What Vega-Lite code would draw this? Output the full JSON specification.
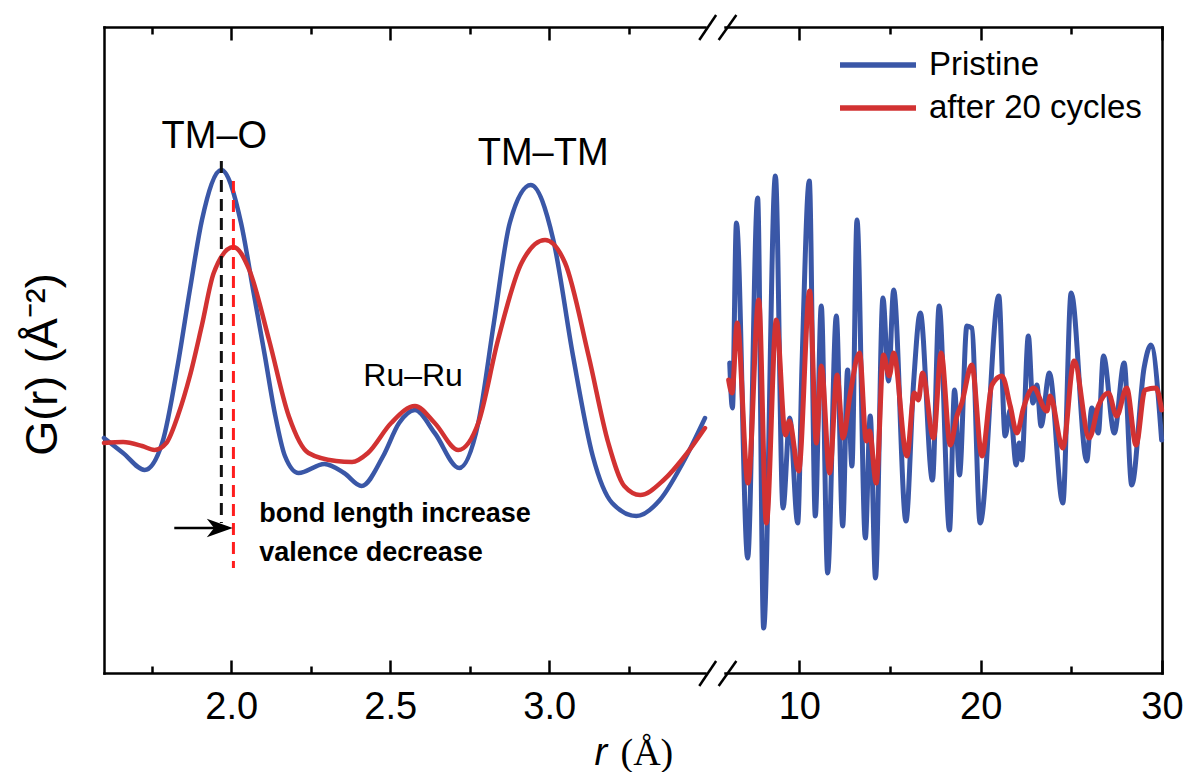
{
  "$schema": "https://vega.github.io/schema/vega-lite/v6.json",
  "background": "white",
  "padding": {"left": 20, "top": 13, "right": 4, "bottom": 0},
  "bounds": "flush",
  "spacing": 20,
  "config": {
    "view": {"stroke": null},
    "font": "Liberation Sans",
    "axis": {
      "grid": false,
      "domainColor": "#000",
      "domainWidth": 2.5,
      "domainCap": "square",
      "tickColor": "#000",
      "tickWidth": 2.5,
      "labelFont": "Liberation Sans",
      "labelFontSize": 38,
      "labelColor": "#000",
      "titleColor": "#000",
      "titleFont": "Liberation Sans",
      "titleFontWeight": "normal",
      "labelFlush": false,
      "labelOverlap": false
    }
  },
  "resolve": {"legend": {"color": "independent"}},
  "datasets": {
    "gl": [
      {"r": 1.600, "G": 0.2, "s": "Pristine"},
      {"r": 1.660, "G": -1.3, "s": "Pristine"},
      {"r": 1.728, "G": -3.0, "s": "Pristine"},
      {"r": 1.783, "G": -0.3, "s": "Pristine"},
      {"r": 1.833, "G": 7.7, "s": "Pristine"},
      {"r": 1.870, "G": 15.0, "s": "Pristine"},
      {"r": 1.908, "G": 22.0, "s": "Pristine"},
      {"r": 1.969, "G": 27.0, "s": "Pristine"},
      {"r": 2.031, "G": 21.7, "s": "Pristine"},
      {"r": 2.069, "G": 15.0, "s": "Pristine"},
      {"r": 2.106, "G": 8.4, "s": "Pristine"},
      {"r": 2.137, "G": 2.7, "s": "Pristine"},
      {"r": 2.169, "G": -1.6, "s": "Pristine"},
      {"r": 2.212, "G": -3.3, "s": "Pristine"},
      {"r": 2.293, "G": -2.4, "s": "Pristine"},
      {"r": 2.355, "G": -3.3, "s": "Pristine"},
      {"r": 2.410, "G": -4.6, "s": "Pristine"},
      {"r": 2.478, "G": -1.6, "s": "Pristine"},
      {"r": 2.528, "G": 1.7, "s": "Pristine"},
      {"r": 2.578, "G": 3.0, "s": "Pristine"},
      {"r": 2.640, "G": 0.7, "s": "Pristine"},
      {"r": 2.717, "G": -2.8, "s": "Pristine"},
      {"r": 2.777, "G": 1.7, "s": "Pristine"},
      {"r": 2.826, "G": 11.7, "s": "Pristine"},
      {"r": 2.876, "G": 21.7, "s": "Pristine"},
      {"r": 2.942, "G": 25.5, "s": "Pristine"},
      {"r": 3.013, "G": 20.0, "s": "Pristine"},
      {"r": 3.075, "G": 8.4, "s": "Pristine"},
      {"r": 3.137, "G": -1.6, "s": "Pristine"},
      {"r": 3.198, "G": -6.3, "s": "Pristine"},
      {"r": 3.274, "G": -7.6, "s": "Pristine"},
      {"r": 3.348, "G": -6.0, "s": "Pristine"},
      {"r": 3.420, "G": -2.3, "s": "Pristine"},
      {"r": 3.490, "G": 2.2, "s": "Pristine"},
      {"r": 1.600, "G": -0.3, "s": "after 20 cycles"},
      {"r": 1.660, "G": -0.2, "s": "after 20 cycles"},
      {"r": 1.720, "G": -0.6, "s": "after 20 cycles"},
      {"r": 1.759, "G": -1.0, "s": "after 20 cycles"},
      {"r": 1.796, "G": -0.3, "s": "after 20 cycles"},
      {"r": 1.833, "G": 2.5, "s": "after 20 cycles"},
      {"r": 1.870, "G": 6.4, "s": "after 20 cycles"},
      {"r": 1.908, "G": 11.5, "s": "after 20 cycles"},
      {"r": 1.945, "G": 16.7, "s": "after 20 cycles"},
      {"r": 2.007, "G": 19.3, "s": "after 20 cycles"},
      {"r": 2.057, "G": 17.0, "s": "after 20 cycles"},
      {"r": 2.119, "G": 10.0, "s": "after 20 cycles"},
      {"r": 2.181, "G": 2.4, "s": "after 20 cycles"},
      {"r": 2.243, "G": -1.3, "s": "after 20 cycles"},
      {"r": 2.330, "G": -2.1, "s": "after 20 cycles"},
      {"r": 2.380, "G": -2.2, "s": "after 20 cycles"},
      {"r": 2.430, "G": -1.3, "s": "after 20 cycles"},
      {"r": 2.503, "G": 1.7, "s": "after 20 cycles"},
      {"r": 2.578, "G": 3.4, "s": "after 20 cycles"},
      {"r": 2.640, "G": 1.7, "s": "after 20 cycles"},
      {"r": 2.714, "G": -1.0, "s": "after 20 cycles"},
      {"r": 2.777, "G": 1.7, "s": "after 20 cycles"},
      {"r": 2.839, "G": 10.0, "s": "after 20 cycles"},
      {"r": 2.913, "G": 17.7, "s": "after 20 cycles"},
      {"r": 2.987, "G": 20.0, "s": "after 20 cycles"},
      {"r": 3.050, "G": 17.7, "s": "after 20 cycles"},
      {"r": 3.124, "G": 8.4, "s": "after 20 cycles"},
      {"r": 3.186, "G": -0.3, "s": "after 20 cycles"},
      {"r": 3.236, "G": -4.6, "s": "after 20 cycles"},
      {"r": 3.286, "G": -5.5, "s": "after 20 cycles"},
      {"r": 3.360, "G": -4.0, "s": "after 20 cycles"},
      {"r": 3.434, "G": -1.3, "s": "after 20 cycles"},
      {"r": 3.490, "G": 1.2, "s": "after 20 cycles"}
    ],
    "gr": [
      {"r": 6.16, "G": 7.7, "s": "Pristine"},
      {"r": 6.31, "G": 3.2, "s": "Pristine"},
      {"r": 6.53, "G": 21.7, "s": "Pristine"},
      {"r": 7.15, "G": -11.8, "s": "Pristine"},
      {"r": 7.70, "G": 24.2, "s": "Pristine"},
      {"r": 8.03, "G": -18.8, "s": "Pristine"},
      {"r": 8.68, "G": 26.4, "s": "Pristine"},
      {"r": 9.10, "G": -6.8, "s": "Pristine"},
      {"r": 9.47, "G": 2.2, "s": "Pristine"},
      {"r": 9.91, "G": -8.3, "s": "Pristine"},
      {"r": 10.15, "G": 7.7, "s": "Pristine"},
      {"r": 10.55, "G": 25.9, "s": "Pristine"},
      {"r": 10.88, "G": -7.6, "s": "Pristine"},
      {"r": 11.21, "G": 13.4, "s": "Pristine"},
      {"r": 11.56, "G": -13.3, "s": "Pristine"},
      {"r": 12.04, "G": 12.4, "s": "Pristine"},
      {"r": 12.39, "G": -8.6, "s": "Pristine"},
      {"r": 12.66, "G": 7.0, "s": "Pristine"},
      {"r": 12.90, "G": -2.6, "s": "Pristine"},
      {"r": 13.18, "G": 22.0, "s": "Pristine"},
      {"r": 13.64, "G": -9.8, "s": "Pristine"},
      {"r": 13.91, "G": 2.4, "s": "Pristine"},
      {"r": 14.20, "G": -13.8, "s": "Pristine"},
      {"r": 14.61, "G": 14.2, "s": "Pristine"},
      {"r": 14.92, "G": 5.9, "s": "Pristine"},
      {"r": 15.20, "G": 15.0, "s": "Pristine"},
      {"r": 15.88, "G": -8.1, "s": "Pristine"},
      {"r": 16.30, "G": 5.7, "s": "Pristine"},
      {"r": 16.67, "G": 12.7, "s": "Pristine"},
      {"r": 17.34, "G": -4.0, "s": "Pristine"},
      {"r": 17.71, "G": 13.4, "s": "Pristine"},
      {"r": 18.28, "G": -9.0, "s": "Pristine"},
      {"r": 18.56, "G": 5.0, "s": "Pristine"},
      {"r": 18.83, "G": -3.5, "s": "Pristine"},
      {"r": 19.24, "G": 11.4, "s": "Pristine"},
      {"r": 19.51, "G": 11.2, "s": "Pristine"},
      {"r": 19.97, "G": -8.3, "s": "Pristine"},
      {"r": 21.00, "G": 14.4, "s": "Pristine"},
      {"r": 21.35, "G": 0.4, "s": "Pristine"},
      {"r": 21.63, "G": 3.0, "s": "Pristine"},
      {"r": 21.96, "G": -2.5, "s": "Pristine"},
      {"r": 22.12, "G": -0.3, "s": "Pristine"},
      {"r": 22.27, "G": -2.0, "s": "Pristine"},
      {"r": 22.63, "G": 10.4, "s": "Pristine"},
      {"r": 22.88, "G": 3.7, "s": "Pristine"},
      {"r": 23.10, "G": 5.5, "s": "Pristine"},
      {"r": 23.33, "G": 1.4, "s": "Pristine"},
      {"r": 23.79, "G": 6.7, "s": "Pristine"},
      {"r": 24.53, "G": -6.3, "s": "Pristine"},
      {"r": 24.99, "G": 14.7, "s": "Pristine"},
      {"r": 25.85, "G": -2.1, "s": "Pristine"},
      {"r": 26.13, "G": 3.2, "s": "Pristine"},
      {"r": 26.49, "G": 0.7, "s": "Pristine"},
      {"r": 26.77, "G": 8.4, "s": "Pristine"},
      {"r": 27.37, "G": 0.7, "s": "Pristine"},
      {"r": 27.91, "G": 7.7, "s": "Pristine"},
      {"r": 28.33, "G": -4.5, "s": "Pristine"},
      {"r": 29.01, "G": 7.2, "s": "Pristine"},
      {"r": 29.39, "G": 9.5, "s": "Pristine"},
      {"r": 29.98, "G": 0.0, "s": "Pristine"},
      {"r": 6.10, "G": 6.0, "s": "after 20 cycles"},
      {"r": 6.29, "G": 4.7, "s": "after 20 cycles"},
      {"r": 6.57, "G": 11.7, "s": "after 20 cycles"},
      {"r": 7.17, "G": -4.3, "s": "after 20 cycles"},
      {"r": 7.76, "G": 14.0, "s": "after 20 cycles"},
      {"r": 8.18, "G": -8.3, "s": "after 20 cycles"},
      {"r": 8.73, "G": 12.0, "s": "after 20 cycles"},
      {"r": 9.23, "G": 0.5, "s": "after 20 cycles"},
      {"r": 9.45, "G": 1.9, "s": "after 20 cycles"},
      {"r": 9.96, "G": -3.1, "s": "after 20 cycles"},
      {"r": 10.57, "G": 14.9, "s": "after 20 cycles"},
      {"r": 10.94, "G": -0.3, "s": "after 20 cycles"},
      {"r": 11.21, "G": 7.4, "s": "after 20 cycles"},
      {"r": 11.67, "G": -3.3, "s": "after 20 cycles"},
      {"r": 12.08, "G": 6.5, "s": "after 20 cycles"},
      {"r": 12.41, "G": 0.2, "s": "after 20 cycles"},
      {"r": 12.81, "G": 4.7, "s": "after 20 cycles"},
      {"r": 13.32, "G": 8.7, "s": "after 20 cycles"},
      {"r": 13.69, "G": -0.1, "s": "after 20 cycles"},
      {"r": 13.87, "G": 0.9, "s": "after 20 cycles"},
      {"r": 14.24, "G": -4.3, "s": "after 20 cycles"},
      {"r": 14.64, "G": 8.5, "s": "after 20 cycles"},
      {"r": 14.96, "G": 6.4, "s": "after 20 cycles"},
      {"r": 15.20, "G": 8.7, "s": "after 20 cycles"},
      {"r": 15.93, "G": -1.6, "s": "after 20 cycles"},
      {"r": 16.34, "G": 4.7, "s": "after 20 cycles"},
      {"r": 16.57, "G": 4.0, "s": "after 20 cycles"},
      {"r": 16.79, "G": 6.7, "s": "after 20 cycles"},
      {"r": 17.40, "G": 0.2, "s": "after 20 cycles"},
      {"r": 17.82, "G": 8.7, "s": "after 20 cycles"},
      {"r": 18.32, "G": -0.5, "s": "after 20 cycles"},
      {"r": 18.69, "G": 2.4, "s": "after 20 cycles"},
      {"r": 18.96, "G": 3.7, "s": "after 20 cycles"},
      {"r": 19.51, "G": 7.5, "s": "after 20 cycles"},
      {"r": 20.07, "G": -1.6, "s": "after 20 cycles"},
      {"r": 20.62, "G": 5.5, "s": "after 20 cycles"},
      {"r": 21.17, "G": 6.4, "s": "after 20 cycles"},
      {"r": 21.63, "G": 3.4, "s": "after 20 cycles"},
      {"r": 22.00, "G": 0.7, "s": "after 20 cycles"},
      {"r": 22.36, "G": 3.2, "s": "after 20 cycles"},
      {"r": 22.91, "G": 5.2, "s": "after 20 cycles"},
      {"r": 23.65, "G": 2.9, "s": "after 20 cycles"},
      {"r": 23.83, "G": 4.4, "s": "after 20 cycles"},
      {"r": 24.53, "G": -0.8, "s": "after 20 cycles"},
      {"r": 25.15, "G": 7.9, "s": "after 20 cycles"},
      {"r": 25.99, "G": 0.2, "s": "after 20 cycles"},
      {"r": 26.49, "G": 3.4, "s": "after 20 cycles"},
      {"r": 27.04, "G": 4.7, "s": "after 20 cycles"},
      {"r": 27.50, "G": 2.4, "s": "after 20 cycles"},
      {"r": 28.05, "G": 5.2, "s": "after 20 cycles"},
      {"r": 28.57, "G": -0.5, "s": "after 20 cycles"},
      {"r": 29.06, "G": 5.0, "s": "after 20 cycles"},
      {"r": 29.67, "G": 5.2, "s": "after 20 cycles"},
      {"r": 29.98, "G": 3.0, "s": "after 20 cycles"}
    ],
    "peakLines": [
      {"which": "pristine", "r": 1.969, "top": 27.9, "bottom": -8.3},
      {"which": "cycled", "r": 2.007, "top": 25.9, "bottom": -12.8}
    ],
    "bigLabels": [
      {"r": 1.947, "G": 29.2, "label": "TM–O"},
      {"r": 2.981, "G": 27.5, "label": "TM–TM"}
    ],
    "smallLabels": [
      {"r": 2.572, "G": 5.4, "label": "Ru–Ru"}
    ],
    "notes": [
      {"r": 2.088, "G": -8.2, "label": "bond length increase"},
      {"r": 2.088, "G": -12.1, "label": "valence decrease"}
    ],
    "arrow": [{"from": 1.821, "to": 1.99, "tip": 2.005, "G": -8.8}],
    "breaksL": [
      {"x1": 3.472, "x2": 3.525, "y1": -24.6, "y2": -22.1},
      {"x1": 3.472, "x2": 3.525, "y1": 40.0, "y2": 42.5}
    ],
    "breaksR": [
      {"x1": 5.551, "x2": 6.527, "y1": -24.6, "y2": -22.1},
      {"x1": 5.551, "x2": 6.527, "y1": 40.0, "y2": 42.5}
    ]
  },
  "hconcat": [
    {
      "width": 601,
      "height": 646,
      "resolve": {"axis": {"x": "independent", "y": "independent"}},
      "layer": [
        {
          "data": {"name": "gl"},
          "mark": {"type": "line", "strokeWidth": 4.5, "interpolate": "monotone", "strokeCap": "round", "strokeJoin": "round"},
          "encoding": {
            "x": {"field": "r", "type": "quantitative",
              "scale": {"domain": [1.6, 3.49], "nice": false, "zero": false},
              "axis": {"orient": "bottom", "values": [1.75, 2, 2.25, 2.5, 2.75, 3, 3.25], "format": ".1f",
                "labelExpr": "(datum.value == 2 || datum.value == 2.5 || datum.value == 3) ? datum.label : ''",
                "tickSize": {"condition": {"test": "datum.value == 2 || datum.value == 2.5 || datum.value == 3", "value": -13}, "value": -7},
                "labelPadding": 28,
                "title": "r", "titleFontStyle": "italic", "titleFontSize": 38,
                "titleX": 490, "titleY": 91, "titleAlign": "left", "titleBaseline": "alphabetic", "titleAnchor": "start"}},
            "y": {"field": "G", "type": "quantitative",
              "scale": {"domain": [-23.3, 41.3], "nice": false, "zero": false},
              "axis": {"orient": "left", "ticks": false, "labels": false, "domain": true,
                "title": "G(r) (Å⁻²)", "titleFontSize": 45, "titleX": -48, "titleY": 337,
                "titleAlign": "center", "titleBaseline": "alphabetic", "titleAngle": 270}},
            "color": {"field": "s", "type": "nominal",
              "scale": {"domain": ["Pristine", "after 20 cycles"], "range": ["#3A57A7", "#D23232"]},
              "legend": null}
          }
        },
        {
          "data": {"name": "breaksL"},
          "mark": {"type": "rule", "strokeWidth": 2.5, "color": "#000"},
          "encoding": {
            "x": {"field": "x1", "type": "quantitative",
              "scale": {"domain": [1.6, 3.49], "nice": false, "zero": false},
              "axis": {"orient": "top", "values": [1.75, 2, 2.25, 2.5, 2.75, 3, 3.25], "labels": false,
                "tickSize": {"condition": {"test": "datum.value == 2 || datum.value == 2.5 || datum.value == 3", "value": -13}, "value": -7},
                "title": "(Å)", "titleFont": "Liberation Serif", "titleFontSize": 38,
                "titleX": 516, "titleY": 737, "titleAlign": "left", "titleBaseline": "alphabetic", "titleAnchor": "start"}},
            "x2": {"field": "x2"},
            "y": {"field": "y1", "type": "quantitative", "scale": {"domain": [-23.3, 41.3], "nice": false, "zero": false}, "axis": null},
            "y2": {"field": "y2"}
          }
        },
        {
          "data": {"name": "peakLines"},
          "transform": [{"filter": "datum.which == 'pristine'"}],
          "mark": {"type": "rule", "strokeWidth": 3, "color": "#111", "strokeDash": [12, 7]},
          "encoding": {
            "x": {"field": "r", "type": "quantitative", "scale": {"domain": [1.6, 3.49], "nice": false, "zero": false}, "axis": null},
            "y": {"field": "top", "type": "quantitative", "scale": {"domain": [-23.3, 41.3], "nice": false, "zero": false}, "axis": null},
            "y2": {"field": "bottom"}
          }
        },
        {
          "data": {"name": "peakLines"},
          "transform": [{"filter": "datum.which == 'cycled'"}],
          "mark": {"type": "rule", "strokeWidth": 3, "color": "#FF1E1E", "strokeDash": [12, 7]},
          "encoding": {
            "x": {"field": "r", "type": "quantitative", "scale": {"domain": [1.6, 3.49], "nice": false, "zero": false}, "axis": null},
            "y": {"field": "top", "type": "quantitative", "scale": {"domain": [-23.3, 41.3], "nice": false, "zero": false}, "axis": null},
            "y2": {"field": "bottom"}
          }
        },
        {
          "data": {"name": "arrow"},
          "mark": {"type": "rule", "strokeWidth": 2.5, "color": "#000"},
          "encoding": {
            "x": {"field": "from", "type": "quantitative", "scale": {"domain": [1.6, 3.49], "nice": false, "zero": false}, "axis": null},
            "x2": {"field": "to"},
            "y": {"field": "G", "type": "quantitative", "scale": {"domain": [-23.3, 41.3], "nice": false, "zero": false}, "axis": null}
          }
        },
        {
          "data": {"name": "arrow"},
          "mark": {"type": "point", "shape": "M0,0L-1,-0.36L-0.72,0L-1,0.36Z", "size": 2700, "filled": true, "color": "#000", "opacity": 1, "strokeWidth": 0},
          "encoding": {
            "x": {"field": "tip", "type": "quantitative", "scale": {"domain": [1.6, 3.49], "nice": false, "zero": false}, "axis": null},
            "y": {"field": "G", "type": "quantitative", "scale": {"domain": [-23.3, 41.3], "nice": false, "zero": false}, "axis": null}
          }
        },
        {
          "data": {"name": "bigLabels"},
          "mark": {"type": "text", "fontSize": 38, "font": "Liberation Sans", "color": "#000", "align": "center", "baseline": "alphabetic"},
          "encoding": {
            "x": {"field": "r", "type": "quantitative", "scale": {"domain": [1.6, 3.49], "nice": false, "zero": false}, "axis": null},
            "y": {"field": "G", "type": "quantitative", "scale": {"domain": [-23.3, 41.3], "nice": false, "zero": false}, "axis": null},
            "text": {"field": "label"}
          }
        },
        {
          "data": {"name": "smallLabels"},
          "mark": {"type": "text", "fontSize": 32, "font": "Liberation Sans", "color": "#000", "align": "center", "baseline": "alphabetic"},
          "encoding": {
            "x": {"field": "r", "type": "quantitative", "scale": {"domain": [1.6, 3.49], "nice": false, "zero": false}, "axis": null},
            "y": {"field": "G", "type": "quantitative", "scale": {"domain": [-23.3, 41.3], "nice": false, "zero": false}, "axis": null},
            "text": {"field": "label"}
          }
        },
        {
          "data": {"name": "notes"},
          "mark": {"type": "text", "fontSize": 27, "font": "Liberation Sans", "fontWeight": "bold", "color": "#000", "align": "left", "baseline": "alphabetic"},
          "encoding": {
            "x": {"field": "r", "type": "quantitative", "scale": {"domain": [1.6, 3.49], "nice": false, "zero": false}, "axis": null},
            "y": {"field": "G", "type": "quantitative", "scale": {"domain": [-23.3, 41.3], "nice": false, "zero": false}, "axis": null},
            "text": {"field": "label"}
          }
        }
      ]
    },
    {
      "width": 437,
      "height": 646,
      "resolve": {"axis": {"x": "independent", "y": "independent"}},
      "layer": [
        {
          "data": {"name": "gr"},
          "mark": {"type": "line", "strokeWidth": 5, "interpolate": "monotone", "strokeCap": "round", "strokeJoin": "round"},
          "encoding": {
            "x": {"field": "r", "type": "quantitative",
              "scale": {"domain": [5.9, 30], "nice": false, "zero": false},
              "axis": {"orient": "bottom", "values": [10, 15, 20, 25, 30], "format": "d",
                "labelExpr": "datum.value % 10 == 0 ? datum.label : ''",
                "tickSize": {"condition": {"test": "datum.value % 10 == 0", "value": -13}, "value": -7},
                "labelPadding": 28, "title": null}},
            "y": {"field": "G", "type": "quantitative",
              "scale": {"domain": [-23.3, 41.3], "nice": false, "zero": false},
              "axis": {"orient": "right", "ticks": false, "labels": false, "domain": true, "title": null}},
            "color": {"field": "s", "type": "nominal",
              "scale": {"domain": ["Pristine", "after 20 cycles"], "range": ["#3A57A7", "#D23232"]},
              "legend": {"orient": "none", "legendX": 112, "legendY": 18, "title": null,
                "symbolType": "stroke", "symbolSize": 5776, "symbolStrokeWidth": 5.5,
                "labelFontSize": 33, "labelFont": "Liberation Sans", "labelColor": "#000",
                "labelOffset": 10, "clipHeight": 40, "rowPadding": 3, "labelLimit": 400}}
          }
        },
        {
          "data": {"name": "breaksR"},
          "mark": {"type": "rule", "strokeWidth": 2.5, "color": "#000"},
          "encoding": {
            "x": {"field": "x1", "type": "quantitative",
              "scale": {"domain": [5.9, 30], "nice": false, "zero": false},
              "axis": {"orient": "top", "values": [10, 15, 20, 25, 30], "labels": false,
                "tickSize": {"condition": {"test": "datum.value % 10 == 0", "value": -13}, "value": -7},
                "title": null}},
            "x2": {"field": "x2"},
            "y": {"field": "y1", "type": "quantitative", "scale": {"domain": [-23.3, 41.3], "nice": false, "zero": false}, "axis": null},
            "y2": {"field": "y2"}
          }
        }
      ]
    }
  ]
}
